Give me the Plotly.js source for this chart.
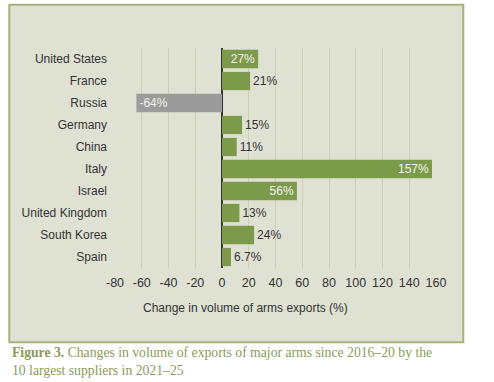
<!DOCTYPE html>
<html><head><meta charset="utf-8">
<script src="https://cdn.plot.ly/plotly-3.0.1.min.js"></script>
<style>html,body{margin:0;padding:0;background:#fff;}#chart{width:494px;height:382px;}</style>
</head><body><div id="chart"></div>
<script>
const countries = ["United States","France","Russia","Germany","China","Italy","Israel","United Kingdom","South Korea","Spain"];
const changes = [27, 21, -64, 15, 11, 157, 56, 13, 24, 6.7];
const labelInside = [true, false, true, false, false, true, true, false, false, false];
const tickVals = [-80,-60,-40,-20,0,20,40,60,80,100,120,140,160];
const tickText = ["-80","-60","-40","-20","0","20","40","60","80","100","120","140","160"];
const axisTitle = "Change in volume of arms exports (%)";
const caption = "<b>Figure 3.</b> Changes in volume of exports of major arms since 2016–20 by the<br>10 largest suppliers in 2021–25";

const W = 494, H = 382;
const L = 114.7, R = 435.7, T = 48.3, B = 268.3;
const pw = R - L, ph = B - T;
const px = x => (x - L) / pw;
const py = y => (B - y) / ph;

const green = "#7b9a4a", gray = "#9b9b9b";
const trace = {
  type: "bar", orientation: "h",
  y: countries, x: changes,
  marker: {color: changes.map(v => v < 0 ? gray : green), line: {width: 0}},
  text: changes.map(v => v + "%"),
  textposition: labelInside.map(b => b ? "inside" : "outside"),
  insidetextanchor: "end",
  textfont: {family: "Liberation Sans, Arial, sans-serif", size: 12, color: labelInside.map(b => b ? "#f4f4ee" : "#333333")},
  constraintext: "none",
  cliponaxis: false,
  hoverinfo: "none",
  width: 0.83
};

const layout = {
  width: W, height: H,
  margin: {l: L, r: W - R, t: T, b: H - B, pad: 0},
  paper_bgcolor: "#ffffff",
  plot_bgcolor: "rgba(0,0,0,0)",
  showlegend: false,
  font: {family: "Liberation Sans, Arial, sans-serif", size: 12, color: "#333333"},
  xaxis: {
    range: [-80, 160], tickvals: tickVals, ticktext: tickText,
    showgrid: true, gridcolor: "#cbcfba", gridwidth: 1,
    zeroline: true, zerolinecolor: "#333333", zerolinewidth: 1.5,
    showline: false, ticks: "", ticklen: 0, ticklabelstandoff: 5,
    tickfont: {size: 12.5, color: "#333333"},
    fixedrange: true
  },
  yaxis: {
    autorange: "reversed", showgrid: false, zeroline: false, showline: false,
    ticks: "", ticklabelstandoff: 7, tickfont: {size: 12, color: "#333333"}, fixedrange: true
  },
  shapes: [{
    type: "rect", xref: "paper", yref: "paper", layer: "below",
    x0: px(9), x1: px(463), y0: py(342.5), y1: py(5),
    fillcolor: "#dfe1d3", line: {color: "#a6b27e", width: 2}
  }],
  annotations: [
    {xref: "paper", yref: "paper", x: px(245.5), y: py(308.5), xanchor: "center", yanchor: "middle",
     text: axisTitle, showarrow: false, font: {size: 12, color: "#333333"}},
    {xref: "paper", yref: "paper", x: px(10), y: py(343.5), xanchor: "left", yanchor: "top", align: "left",
     text: caption, showarrow: false, font: {family: "Liberation Serif, Times New Roman, serif", size: 13.7, color: "#8a9b58"}}
  ]
};
Plotly.newPlot("chart", [trace], layout, {displayModeBar: false, staticPlot: true});
</script></body></html>
